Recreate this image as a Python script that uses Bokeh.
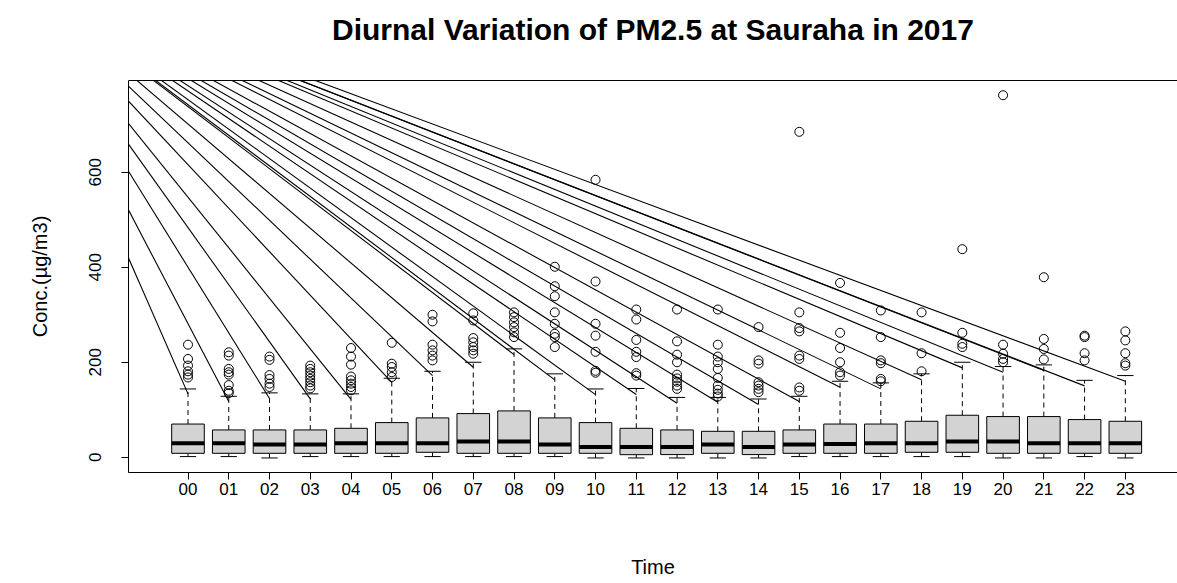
from bokeh.plotting import figure
from bokeh.models import Range1d, FixedTicker, LinearAxis
from bokeh.embed import file_html
from bokeh.resources import INLINE

hours = ["%02d" % h for h in range(24)]
lower = [1.5, 1.5, -1.4, 1.5, 1.5, 1.5, 1.5, 1.5, 1.5, 1.5, -1.4, -1.4,
         -1.4, -1.4, -1.4, 1.5, 1.5, 1.5, 1.5, 1.5, -1.4, -1.4, 1.5, -1.4]
q1 = [8.4, 8.4, 8.4, 8.4, 8.4, 8.4, 10.5, 8.4, 8.4, 8.4, 8.4, 5.5,
      5.7, 8.4, 5.7, 8.4, 8.4, 8.4, 10.5, 10.5, 8.4, 8.4, 8.4, 8.4]
median = [29.5, 29.5, 26.7, 26.7, 29.5, 29.5, 29.5, 33, 33, 26.7, 21.8, 21.8,
          21.8, 26.7, 21.8, 26.7, 28, 29.5, 29.5, 33, 33, 29.5, 29.5, 29.5]
q3 = [70, 57.6, 57.6, 57.6, 61, 73, 82.9, 92, 97.6, 82.9, 73, 61,
      57.6, 54.7, 54.7, 57.6, 70, 70, 75.8, 88.5, 85.7, 85.7, 79.4, 75.8]
upper = [143.8, 128.4, 135.6, 133.5, 133.5, 166.3, 181, 200, 228.2, 175.6, 143.8, 144.8,
         126, 126, 122.7, 128.4, 160, 156.6, 175.6, 200, 191, 194.5, 162, 172]
outliers = [
    [237, 207, 193, 181, 174, 168],
    [221, 214, 186, 179, 174, 152, 140, 135],
    [212, 205, 173, 165, 155, 148],
    [193, 186, 179, 172, 165, 158, 151, 145],
    [230, 212, 195, 170, 162, 155, 148, 141],
    [241, 197, 190, 179, 169],
    [300, 286, 237, 225, 214, 204],
    [303, 288, 251, 242, 232, 225, 218],
    [305, 295, 284, 274, 263, 253],
    [401, 360, 339, 305, 281, 260, 253, 232],
    [584, 370, 281, 256, 222, 182, 178],
    [311, 290, 247, 222, 211, 177, 172],
    [311, 244, 216, 200, 174, 166, 159, 151, 144],
    [311, 237, 212, 200, 186, 167, 151, 142, 134, 128],
    [274, 204, 197, 158, 151, 144, 137],
    [685, 305, 272, 265, 214, 207, 147, 140],
    [367, 262, 230, 200, 179, 172],
    [309, 253, 204, 198, 165, 160],
    [305, 219, 181],
    [438, 262, 239, 232],
    [762, 237, 218, 207, 200],
    [379, 249, 228, 206],
    [256, 253, 219, 204],
    [265, 246, 219, 198, 193],
]
# stray lines in the original: each runs from a common far point to just below a whisker top
ray_end = [133.5, 117.3, 123.6, 122.9, 121.9, 157.9, 172, 189.5, 216.2, 163, 132, 132,
           113.7, 115.8, 111, 117.3, 147.4, 144, 163, 188.2, 179, 182.5, 150.3, 160]
ray_origin = (-3.63, 1040)

title_text = "Diurnal Variation of PM2.5 at Sauraha in 2017"
FONT = "Liberation Sans"
xs = list(range(1, len(hours) + 1))

YMIN, YMAX = -32, 793
p = figure(width=1177, height=583, output_backend="svg", toolbar_location=None,
           x_range=Range1d(-0.46, 25.28), y_range=Range1d(YMIN, YMAX),
           min_border_left=128, min_border_right=0, min_border_top=80, min_border_bottom=111)
p.outline_line_color = None
p.grid.visible = False
p.background_fill_color = "white"
p.border_fill_color = "white"

xa = p.below[0]
ya = p.left[0]

# stray lines
p.segment(x0=[ray_origin[0]] * len(xs), y0=[ray_origin[1]] * len(xs), x1=xs, y1=ray_end,
          line_color="black", line_width=1.1)

hw = 0.4
sw = 0.2
# whiskers
p.segment(x0=xs, y0=q3, x1=xs, y1=upper, line_color="black", line_width=1, line_dash="5 4")
p.segment(x0=xs, y0=q1, x1=xs, y1=lower, line_color="black", line_width=1, line_dash="5 4")
# staples
p.segment(x0=[x - sw for x in xs], y0=upper, x1=[x + sw for x in xs], y1=upper,
          line_color="black", line_width=1)
p.segment(x0=[x - sw for x in xs], y0=lower, x1=[x + sw for x in xs], y1=lower,
          line_color="black", line_width=1)
# boxes
p.quad(left=[x - hw for x in xs], right=[x + hw for x in xs], bottom=q1, top=q3,
       fill_color="#D3D3D3", line_color="black", line_width=1)
# medians
p.segment(x0=[x - hw for x in xs], y0=median, x1=[x + hw for x in xs], y1=median,
          line_color="black", line_width=4)
# outliers
ox, oy = [], []
for x, vals in zip(xs, outliers):
    for v in vals:
        ox.append(x)
        oy.append(v)
p.scatter(ox, oy, marker="circle", size=9, fill_color=None, line_color="black", line_width=1)

# axes
xa.ticker = FixedTicker(ticks=xs)
xa.major_label_overrides = {x: h for x, h in zip(xs, hours)}
ya.ticker = FixedTicker(ticks=[0, 200, 400, 600])
for ax in (xa, ya):
    ax.axis_line_color = "black"
    ax.axis_line_width = 1
    ax.major_tick_line_color = "black"
    ax.major_tick_out = 7
    ax.major_tick_in = 0
    ax.minor_tick_line_color = None
    ax.major_label_text_font = FONT
    ax.major_label_text_font_size = "17px"
    ax.major_label_text_color = "black"
    ax.axis_label_text_font = FONT
    ax.axis_label_text_font_size = "20px"
    ax.axis_label_text_font_style = "normal"
    ax.axis_label_text_color = "black"
xa.axis_label = "Time"
ya.axis_label = "Conc.(µg/m3)"
ya.major_label_orientation = "vertical"
xa.major_label_standoff = 3
xa.axis_label_standoff = 58
ya.major_label_standoff = 20
ya.axis_label_standoff = 36

# top frame edge + main title (an axis above with no ticks)
top = LinearAxis(ticker=FixedTicker(ticks=[]), axis_line_color="black", axis_line_width=1,
                 major_tick_line_color=None, minor_tick_line_color=None,
                 major_label_text_color=None, major_label_standoff=0,
                 axis_label=title_text, axis_label_text_font=FONT,
                 axis_label_text_font_size="30px", axis_label_text_font_style="bold",
                 axis_label_text_color="black", axis_label_standoff=35)
p.add_layout(top, "above")

open("out.html", "w").write(file_html(p, INLINE))
